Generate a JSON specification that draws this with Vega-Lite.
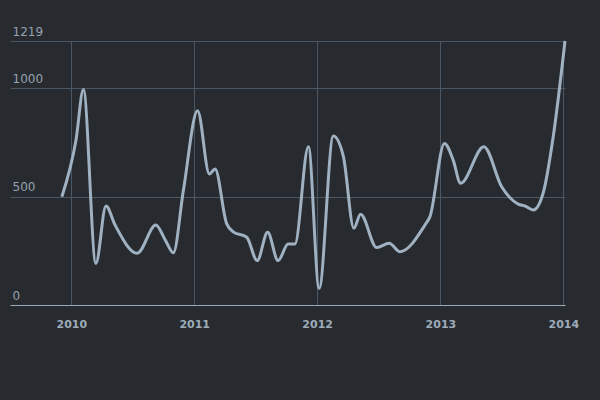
{
  "$schema": "https://vega.github.io/schema/vega-lite/v6.json",
  "width": 555,
  "height": 264,
  "autosize": {"type": "none"},
  "padding": {"left": 10, "top": 41, "right": 35, "bottom": 95},
  "background": "#272b30",
  "config": {
    "view": {"stroke": null},
    "font": "DejaVu Sans"
  },
  "data": {
    "values": [
      {"date": "2009-12-04", "value": 500},
      {"date": "2010-01-15", "value": 762},
      {"date": "2010-02-06", "value": 995},
      {"date": "2010-03-15", "value": 192},
      {"date": "2010-04-14", "value": 457},
      {"date": "2010-05-11", "value": 369},
      {"date": "2010-07-16", "value": 239},
      {"date": "2010-09-09", "value": 369},
      {"date": "2010-10-07", "value": 300},
      {"date": "2010-10-31", "value": 241},
      {"date": "2010-11-30", "value": 531},
      {"date": "2011-01-11", "value": 897},
      {"date": "2011-02-15", "value": 605},
      {"date": "2011-03-04", "value": 628},
      {"date": "2011-04-07", "value": 377},
      {"date": "2011-04-27", "value": 338},
      {"date": "2011-06-06", "value": 313},
      {"date": "2011-07-07", "value": 205},
      {"date": "2011-08-07", "value": 336},
      {"date": "2011-09-07", "value": 205},
      {"date": "2011-10-07", "value": 282},
      {"date": "2011-10-27", "value": 282},
      {"date": "2011-12-06", "value": 731},
      {"date": "2012-01-07", "value": 77},
      {"date": "2012-02-18", "value": 780},
      {"date": "2012-03-19", "value": 685},
      {"date": "2012-04-19", "value": 354},
      {"date": "2012-05-09", "value": 419},
      {"date": "2012-06-26", "value": 265},
      {"date": "2012-08-02", "value": 285},
      {"date": "2012-09-03", "value": 246},
      {"date": "2012-11-16", "value": 369},
      {"date": "2012-12-01", "value": 408},
      {"date": "2013-01-13", "value": 746},
      {"date": "2013-02-08", "value": 669},
      {"date": "2013-03-02", "value": 562},
      {"date": "2013-05-10", "value": 731},
      {"date": "2013-07-02", "value": 546},
      {"date": "2013-08-20", "value": 466},
      {"date": "2013-09-09", "value": 457},
      {"date": "2013-10-04", "value": 439},
      {"date": "2013-11-02", "value": 516},
      {"date": "2013-12-02", "value": 777},
      {"date": "2014-01-06", "value": 1219}
    ]
  },
  "mark": {
    "type": "line",
    "interpolate": "monotone",
    "color": "#a0b1c2",
    "strokeWidth": 3
  },
  "encoding": {
    "x": {
      "field": "date",
      "type": "temporal",
      "scale": {
        "type": "utc",
        "domain": [
          {"year": 2009, "month": 7, "date": 3, "utc": true},
          {"year": 2014, "month": 1, "date": 6, "utc": true}
        ]
      },
      "axis": {
        "title": null,
        "format": "%Y",
        "tickCount": {"interval": "year", "step": 1},
        "ticks": false,
        "grid": true,
        "gridColor": "#4a5866",
        "gridOpacity": 1,
        "domainColor": "#9aa8b6",
        "domainWidth": 1,
        "labelColor": "#9eabb9",
        "labelFontWeight": "bold",
        "labelFontSize": 11,
        "labelPadding": 13
      }
    },
    "y": {
      "field": "value",
      "type": "quantitative",
      "scale": {"domain": [0, 1219], "nice": false, "zero": true},
      "axis": {
        "title": null,
        "format": "d",
        "values": [0, 500, 1000, 1219],
        "domain": false,
        "ticks": false,
        "grid": true,
        "gridColor": "#4a5866",
        "gridOpacity": 1,
        "labelColor": "#95a1ae",
        "labelFontSize": 12,
        "labelAlign": "left",
        "labelBaseline": "bottom",
        "labelPadding": -2,
        "labelOffset": -3
      }
    }
  }
}
